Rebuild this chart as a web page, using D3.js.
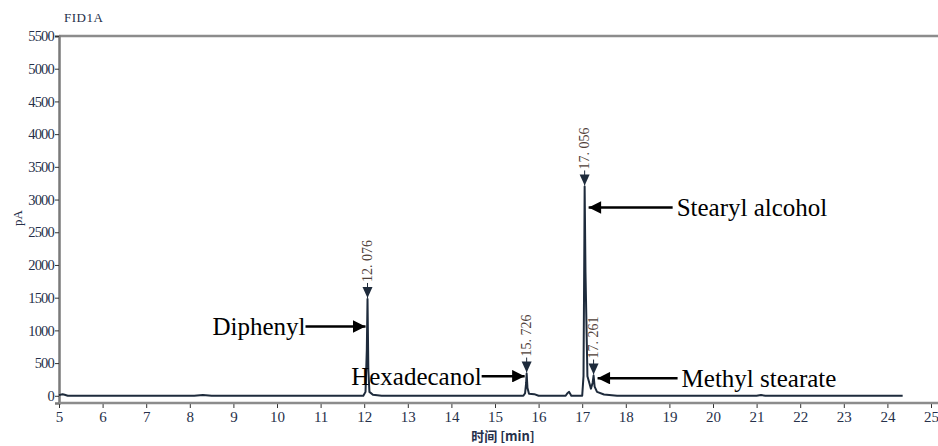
<!DOCTYPE html>
<html lang="en">
<head>
    <meta charset="UTF-8">
    <title>FID1A chromatogram</title>
    <script src="https://d3js.org/d3.v7.min.js"></script>
    <style>
        body { margin: 0; background: #fff; }
        #chart { width: 938px; height: 446px; }
    </style>
</head>
<body>
    <div id="chart"></div>
    <script>
        // signal: time [min], response [pA]
        var times = [5.0, 5.08, 5.13, 5.2, 8.1, 8.3, 8.5, 11.98, 12.03, 12.06, 12.076, 12.095, 12.12, 12.2, 12.4,
                     15.65, 15.69, 15.715, 15.726, 15.745, 15.78, 15.9, 16.0, 16.62, 16.66, 16.7, 16.75,
                     17.0, 17.03, 17.05, 17.056, 17.075, 17.12, 17.2, 17.24, 17.261, 17.285, 17.34, 17.5, 17.8,
                     21.0, 21.1, 21.2, 24.35];
        var values = [10, 25, 15, 0, 0, 12, 0, 0, 60, 700, 1480, 400, 60, 15, 0,
                      0, 40, 200, 340, 120, 30, 25, 0, 0, 40, 60, 0,
                      0, 300, 2400, 3200, 1900, 300, 110, 200, 310, 140, 60, 20, 0,
                      0, 12, 0, 0];
        var peakTimes = [12.076, 15.726, 17.056, 17.261];
        var peakTops = [1480, 340, 3200, 310];
        var peakLabels = ["12. 076", "15. 726", "17. 056", "17. 261"];
        var yTicks = [0, 500, 1000, 1500, 2000, 2500, 3000, 3500, 4000, 4500, 5000, 5500];
        var xTicks = [5, 6, 7, 8, 9, 10, 11, 12, 13, 14, 15, 16, 17, 18, 19, 20, 21, 22, 23, 24, 25];
        // compound names, the peak each one points at, and which side the name sits
        var compounds = ["Diphenyl", "Hexadecanol", "Stearyl alcohol", "Methyl stearate"];
        var compoundPeak = [0, 1, 2, 3];
        var compoundLevel = [1060, 300, 2880, 270];
        var compoundSide = ["left", "left", "right", "right"];

        var width = 938, height = 446;
        var serif = "'Liberation Serif', 'Times New Roman', serif";
        var x = d3.scaleLinear().domain([5, 25]).range([59, 931]);
        var y = d3.scaleLinear().domain([-110, 5500]).range([403, 36]);

        var svg = d3.select("#chart").append("svg")
            .attr("width", width).attr("height", height);

        // frame: top rule and left axis
        svg.append("line").attr("x1", 59).attr("x2", width).attr("y1", y(5500)).attr("y2", y(5500))
            .attr("stroke", "#8c8c8c").attr("stroke-width", 2.5);

        var yAxis = svg.append("g").attr("transform", "translate(59,0)")
            .call(d3.axisLeft(y).tickValues(yTicks).tickSize(4).tickPadding(1).tickFormat(d3.format("d")));
        yAxis.attr("font-family", null);
        yAxis.select(".domain").attr("stroke", "#7a7a7a").attr("stroke-width", 2.5);
        yAxis.selectAll(".tick line").attr("stroke", "#333");
        yAxis.selectAll(".tick text").style("font-family", serif).style("font-size", "14.5px")
            .style("letter-spacing", "-0.8px").style("fill", "#26304a");

        var xAxis = svg.append("g").attr("transform", "translate(0," + y(-110) + ")")
            .call(d3.axisBottom(x).tickValues(xTicks).tickSize(5).tickPadding(3).tickFormat(d3.format("d")));
        xAxis.attr("font-family", null);
        xAxis.select(".domain").remove();
        xAxis.append("line").attr("x1", 59).attr("x2", width).attr("y1", 0).attr("y2", 0)
            .attr("stroke", "#8c8c8c").attr("stroke-width", 2.5);
        xAxis.selectAll(".tick line").attr("stroke", "#333");
        xAxis.selectAll(".tick text").style("font-family", serif).style("font-size", "15px").style("fill", "#26304a");

        // titles
        svg.append("text").attr("x", 64).attr("y", 22).text("FID1A")
            .style("font-family", serif).style("font-size", "13px").style("letter-spacing", "0.5px").style("fill", "#26304a");
        svg.append("text").attr("transform", "translate(22,218) rotate(-90)").attr("text-anchor", "middle")
            .text("pA").style("font-family", serif).style("font-size", "13px").style("fill", "#26304a");
        svg.append("text").attr("x", 503).attr("y", 441).attr("text-anchor", "middle")
            .text("时间 [min]").style("font-family", "'Noto Sans CJK SC', sans-serif").style("font-size", "13px")
            .style("font-weight", "bold").style("fill", "#26304a");

        // trace
        var pts = times.map(function(t, i) { return [t, values[i]]; });
        svg.append("path").datum(pts)
            .attr("d", d3.line().x(function(d) { return x(d[0]); }).y(function(d) { return y(d[1]); }))
            .attr("fill", "none").attr("stroke", "#1e2b3c").attr("stroke-width", 2).attr("stroke-linejoin", "round");

        // peak markers and retention time labels
        peakTimes.forEach(function(t, i) {
            var px = x(t), py = y(peakTops[i]) - 1;
            svg.append("line").attr("x1", px).attr("x2", px).attr("y1", py - 15).attr("y2", py)
                .attr("stroke", "#1e2b3c").attr("stroke-width", 1);
            svg.append("path").attr("d", "M" + (px - 5) + "," + (py - 11) + "L" + (px + 5) + "," + (py - 11) + "L" + px + "," + py + "Z")
                .attr("fill", "#1e2b3c");
            svg.append("text").attr("transform", "translate(" + (px + 4.5) + "," + (py - 16) + ") rotate(-90)")
                .text(peakLabels[i]).style("font-family", serif).style("font-size", "14px")
                .style("fill", "#4e4038");
        });

        // compound annotations with arrows
        var defs = svg.append("defs");
        defs.append("marker").attr("id", "arrow").attr("viewBox", "0 0 10 10").attr("refX", 10).attr("refY", 5)
            .attr("markerWidth", 6).attr("markerHeight", 5).attr("orient", "auto-start-reverse")
            .append("path").attr("d", "M0,0L10,5L0,10Z").attr("fill", "#000");

        var arrowLen = [60, 43, 84, 80];
        compounds.forEach(function(name, i) {
            var k = compoundPeak[i];
            var px = x(peakTimes[k]), py = y(compoundLevel[i]);
            var len = arrowLen[i];
            var txt = svg.append("text").text(name)
                .style("font-family", serif).style("font-size", "25px").style("fill", "#000");
            if (compoundSide[i] === "left") {
                svg.append("line").attr("x1", px - 2 - len).attr("x2", px - 2).attr("y1", py).attr("y2", py)
                    .attr("stroke", "#000").attr("stroke-width", 2.5).attr("marker-end", "url(#arrow)");
                txt.attr("x", px - 2 - len).attr("y", py + 9).attr("text-anchor", "end");
            } else {
                var sx = px + 4;
                svg.append("line").attr("x1", sx + len).attr("x2", sx).attr("y1", py).attr("y2", py)
                    .attr("stroke", "#000").attr("stroke-width", 2.5).attr("marker-end", "url(#arrow)");
                txt.attr("x", sx + len + 4).attr("y", py + 9).attr("text-anchor", "start");
            }
        });
    </script>
</body>
</html>
